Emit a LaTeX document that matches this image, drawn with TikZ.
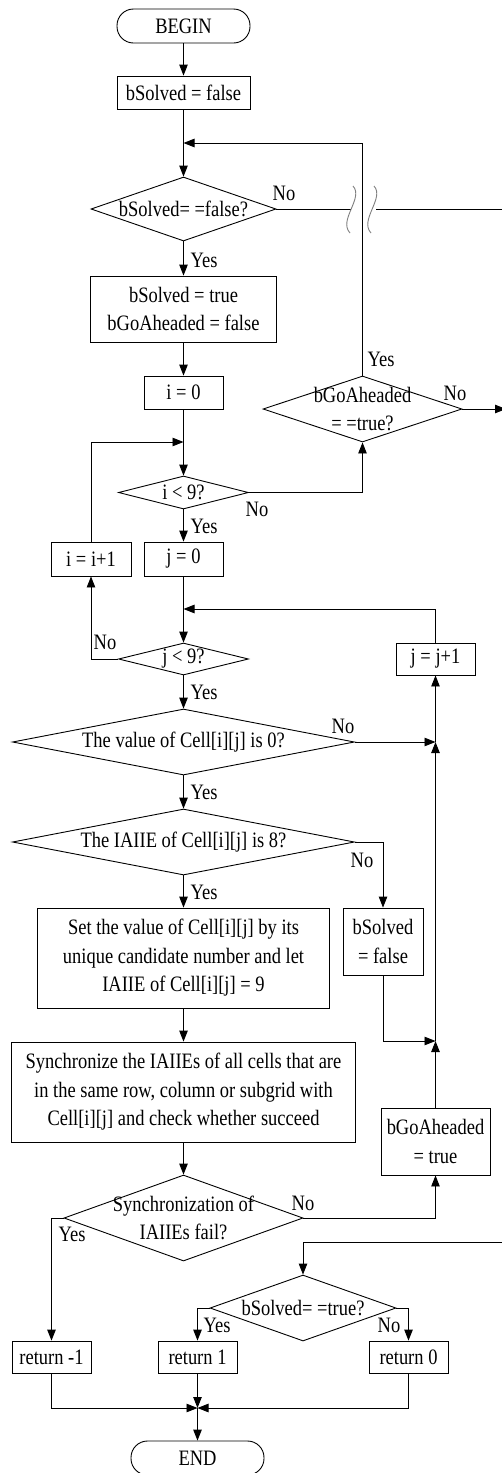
\documentclass[tikz,border=0pt]{standalone}
\usepackage{fontspec}
\setmainfont{Liberation Serif}[FakeStretch=0.84]
\usetikzlibrary{arrows.meta,shapes.geometric}
\begin{document}
\begin{tikzpicture}[x=1pt,y=-1pt,
  font=\fontsize{22}{28.5}\selectfont,
  every node/.style={inner sep=0pt},
  line/.style={draw=black, line width=0.9pt},
  arr/.style={line, -{Triangle[length=11pt,width=8.5pt]}},
  box/.style={draw, line width=0.9pt, rectangle, align=center},
  term/.style={draw, line width=0.9pt, rounded corners=16.5pt},
  dia/.style={draw, line width=0.9pt, diamond},
  txt/.style={align=center},
  wave/.style={draw=gray, line width=0.9pt}
]
\useasboundingbox (0,0) rectangle (501,1473);

% nodes
\node[term, minimum width=133pt, minimum height=34pt] (begin) at (183.5,26) {BEGIN};
\node[box, minimum width=133pt, minimum height=33pt] (init) at (183.5,92.5) {bSolved = false};
\node[dia, minimum width=185pt, minimum height=64pt] (d1) at (183.5,209) {};
\node[txt] (d1t) at (d1.center) {bSolved= =false?};
\node[box, minimum width=186pt, minimum height=66pt] (set1) at (183.5,309) {bSolved = true\\bGoAheaded = false};
\node[box, minimum width=79pt, minimum height=33pt] (i0) at (183.5,392.5) {i = 0};
\node[dia, minimum width=130pt, minimum height=33pt] (d2) at (183.5,492.5) {};
\node (d2t) at (d2.center) {i < 9?};
\node[box, minimum width=79pt, minimum height=34pt] (j0) at (183.5,559) {j = 0};
\node[box, minimum width=80pt, minimum height=34pt] (ii) at (91,559) {i = i+1};
\node[dia, minimum width=130pt, minimum height=32pt] (d3) at (183.5,659) {};
\node (d3t) at (d3.center) {j < 9?};
\node[box, minimum width=79pt, minimum height=32pt] (jj) at (435.5,659) {j = j+1};
\node[dia, minimum width=342pt, minimum height=66pt] (d4) at (183.5,742) {};
\node (d4t) at (d4.center) {The value of Cell[i][j] is 0?};
\node[dia, minimum width=342pt, minimum height=66pt] (d5) at (183.5,842) {};
\node (d5t) at (d5.center) {The IAIIE of Cell[i][j] is 8?};
\node[box, minimum width=292pt, minimum height=100pt] (setv) at (183.5,958) {Set the value of Cell[i][j] by its\\unique candidate number and let\\IAIIE of Cell[i][j] = 9};
\node[box, minimum width=80pt, minimum height=67pt] (bsf) at (383,941.5) {bSolved\\= false};
\node[box, minimum width=344pt, minimum height=100pt] (sync) at (183.5,1092) {Synchronize the IAIIEs of all cells that are\\in the same row, column or subgrid with\\Cell[i][j] and check whether succeed};
\node[box, minimum width=109pt, minimum height=67pt] (bgt) at (435.5,1141.5) {bGoAheaded\\= true};
\node[dia, minimum width=239pt, minimum height=86pt] (d6) at (183.5,1218) {};
\node[txt] (d6t) at (d6.center) {Synchronization of\\IAIIEs fail?};
\node[dia, minimum width=199pt, minimum height=66pt] (d7) at (362.5,409) {};
\node[txt] (d7t) at (d7.center) {bGoAheaded\\= =true?};
\node[dia, minimum width=186pt, minimum height=66pt] (d8) at (303,1308) {};
\node (d8t) at (d8.center) {bSolved= =true?};
\node[box, minimum width=79pt, minimum height=32pt] (rm1) at (51.5,1357) {return -1};
\node[box, minimum width=79pt, minimum height=32pt] (r1) at (197.5,1357) {return 1};
\node[box, minimum width=79pt, minimum height=32pt] (r0) at (408.5,1357) {return 0};
\node[term, minimum width=133pt, minimum height=34pt] (end) at (197.5,1458) {END};

% coordinates
\coordinate (m1) at (183.5,143);
\coordinate (m2) at (183.5,442);
\coordinate (m3) at (183.5,609);
\coordinate (m4) at (435.5,742);
\coordinate (m5) at (435.5,1041);
\coordinate (m6) at (197.5,1408);
\coordinate (c7) at (362.5,143);
\coordinate (bL) at (351,209);
\coordinate (bR) at (376,209);
\coordinate (e1) at (505,209);
\coordinate (e2) at (506,409);
\coordinate (e3) at (505,1242);

% connectors
\draw[arr] (begin) -- (init);
\draw[arr] (init) -- (d1);
\draw[arr] (d7.north) -- (c7) -- (m1);
\draw[line] (d1.east) -- (bL);
\draw[line] (bR) -- (e1);
\draw[wave] (353,186) .. controls (364,198) and (338,220) .. (350,233);
\draw[wave] (374,186) .. controls (385,198) and (359,220) .. (371,233);
\draw[arr] (d1) -- (set1);
\draw[arr] (set1) -- (i0);
\draw[arr] (i0) -- (d2);
\draw[arr] (ii.north) |- (m2);
\draw[arr] (d2.east) -| (d7.south);
\draw[arr] (d7.east) -- (e2);
\draw[arr] (d2) -- (j0);
\draw[arr] (j0) -- (d3);
\draw[arr] (jj.north) |- (m3);
\draw[arr] (d3.west) -| (ii.south);
\draw[arr] (d3) -- (d4);
\draw[arr] (d4.east) -- (m4);
\draw[arr] (m4) -- (jj.south);
\draw[arr] (m5) -- (m4);
\draw[arr] (d4) -- (d5);
\draw[arr] (d5.east) -| (bsf.north);
\draw[arr] (d5) -- (setv);
\draw[arr] (bsf.south) |- (m5);
\draw[arr] (bgt.north) -- (m5);
\draw[arr] (setv) -- (sync);
\draw[arr] (sync) -- (d6);
\draw[arr] (d6.east) -| (bgt.south);
\draw[arr] (d6.west) -| (rm1.north);
\draw[arr] (e3) -| (d8.north);
\draw[arr] (d8.west) -| (r1.north);
\draw[arr] (d8.east) -| (r0.north);
\draw[arr] (rm1.south) |- (m6);
\draw[arr] (r0.south) |- (m6);
\draw[arr] (r1.south) -- (m6);
\draw[arr] (m6) -- (end.north);

% branch labels
\node (n1) at (284,193) {No};
\node (y1) at (204,260) {Yes};
\node (y7) at (381,359) {Yes};
\node (n7) at (455,393) {No};
\node (n2) at (257,509) {No};
\node (y2) at (204,526) {Yes};
\node (n3) at (105,642) {No};
\node (y3) at (204,692) {Yes};
\node (n4) at (343,726) {No};
\node (y4) at (204,792) {Yes};
\node (n5) at (362,860) {No};
\node (y5) at (204,892) {Yes};
\node (n6) at (303,1203) {No};
\node (y6) at (72,1234) {Yes};
\node (y8) at (217,1325) {Yes};
\node (n8) at (389,1325) {No};
\end{tikzpicture}
\end{document}
